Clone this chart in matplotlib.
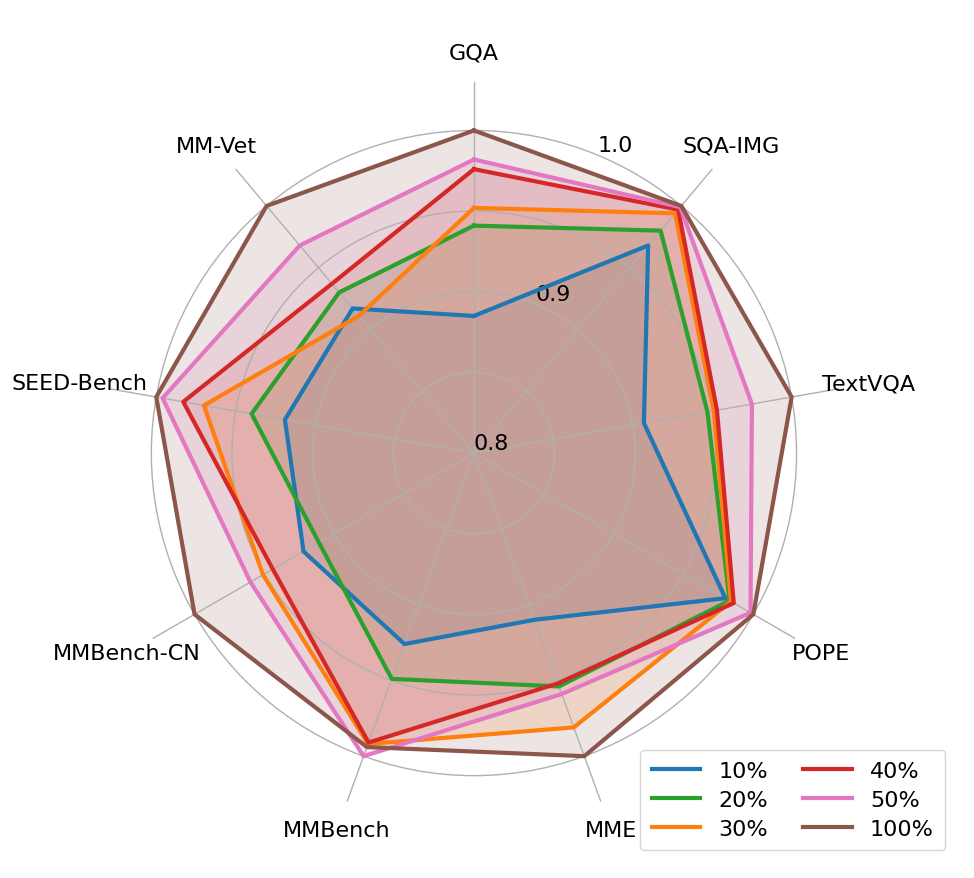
import numpy as np
import matplotlib
matplotlib.use("Agg")
import matplotlib.pyplot as plt

# ------------------------------------------------------------------
# Datos (valores relativos al modelo con 100% de los datos)
# ------------------------------------------------------------------
benchmarks = ["GQA", "SQA-IMG", "TextVQA", "POPE", "MME",
              "MMBench", "MMBench-CN", "SEED-Bench", "MM-Vet"]

series_labels = ["10%", "20%", "30%", "40%", "50%", "100%"]
series_colors = ["tab:blue", "tab:green", "tab:orange", "tab:red", "tab:pink", "tab:brown"]

vals_10 = [0.885, 0.968, 0.907, 0.980, 0.910, 0.926, 0.922, 0.919, 0.917]
vals_20 = [0.941, 0.980, 0.947, 0.983, 0.954, 0.949, 0.911, 0.940, 0.930]
vals_30 = [0.952, 0.994, 0.951, 0.984, 0.981, 0.992, 0.951, 0.970, 0.911]
vals_40 = [0.976, 0.997, 0.953, 0.986, 0.952, 0.991, 0.944, 0.983, 0.937]
vals_50 = [0.982, 0.999, 0.975, 0.998, 0.959, 1.000, 0.960, 0.996, 0.968]
vals_100 = [1.0, 1.0, 1.0, 1.0, 1.0, 0.994, 1.0, 1.0, 1.0]

all_vals = [vals_10, vals_20, vals_30, vals_40, vals_50, vals_100]

r_ticks = [0.8, 0.85, 0.9, 0.95, 1.0]
r_tick_labels = ["0.8", "", "0.9", "", "1.0"]

# ------------------------------------------------------------------
# Grafica radar
# ------------------------------------------------------------------
n = len(benchmarks)
angles = np.linspace(0, 2 * np.pi, n, endpoint=False)
angles_closed = np.concatenate([angles, angles[:1]])

fig = plt.figure(figsize=(9.74, 8.79), dpi=100)
ax = fig.add_axes([0.1057, 0.0614, 0.7618, 0.8441], projection="polar")
ax.set_theta_offset(np.pi / 2)
ax.set_theta_direction(-1)

for vals, lab, col in zip(all_vals, series_labels, series_colors):
    v = np.concatenate([vals, vals[:1]])
    ax.plot(angles_closed, v, color=col, linewidth=3, label=lab)
    ax.fill(angles_closed, v, color=col, alpha=0.15)

ax.set_ylim(0.8, 1.03)
ax.set_rticks(r_ticks)
ax.set_yticklabels(r_tick_labels, fontsize=16)
ax.set_rlabel_position(22.5)
ax.set_xticks(angles)
ax.set_xticklabels(benchmarks, fontsize=16)
ax.tick_params(axis="x", pad=11)
ax.spines["polar"].set_visible(False)
ax.grid(True, color="#b0b0b0", linewidth=1.0)

fig.legend(loc="lower right", bbox_to_anchor=(945 / 974, 1 - 851 / 879),
           borderaxespad=0, ncol=2, fontsize=16, handlelength=2.2,
           columnspacing=1.6, labelspacing=0.4, borderpad=0.5)

plt.savefig("out.png", dpi=100)
plt.close()
